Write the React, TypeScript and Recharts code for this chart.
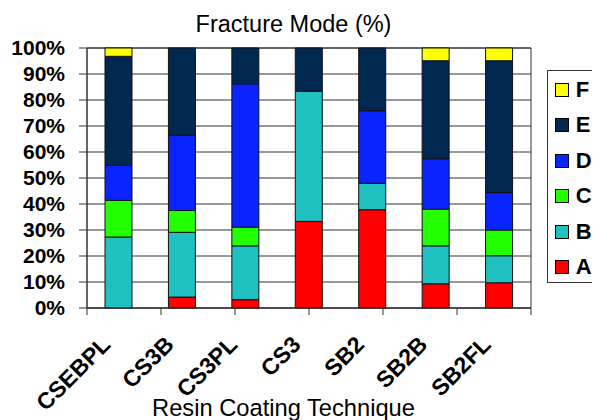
import React from 'react';
import { BarChart, Bar, XAxis, YAxis, CartesianGrid, ReferenceArea } from 'recharts';

const categories = ['CSEBPL', 'CS3B', 'CS3PL', 'CS3', 'SB2', 'SB2B', 'SB2FL'];
const modeA = [0, 4.2, 3.2, 33.3, 37.8, 9.3, 9.7];
const modeB = [27.3, 24.9, 20.7, 50.1, 10.2, 14.6, 10.4];
const modeC = [14.1, 8.4, 7.2, 0, 0, 14.1, 9.9];
const modeD = [13.5, 29.0, 55.1, 0, 27.9, 19.4, 14.4];
const modeE = [41.9, 33.5, 13.8, 16.6, 24.1, 37.7, 50.7];
const modeF = [3.2, 0, 0, 0, 0, 4.9, 4.9];
const yTicks = [0, 10, 20, 30, 40, 50, 60, 70, 80, 90, 100];
const boundaryTicks = [0, 1, 2, 3, 4, 5, 6, 7];

const seriesKeys = ['A', 'B', 'C', 'D', 'E', 'F'];
const seriesColors = ['#FF0000', '#20C0C0', '#22FF00', '#0A24FF', '#002850', '#FFFF00'];
const seriesValues = [modeA, modeB, modeC, modeD, modeE, modeF];

const data = categories.map((name, i) => {
  const row: Record<string, number | string> = { name };
  seriesKeys.forEach((k, j) => {
    row[k] = seriesValues[j][i];
  });
  return row;
});

const FONT = '"Liberation Sans", Arial, sans-serif';

const CatTick = (props: any) => {
  const { x, y, payload } = props;
  return (
    <g transform={`translate(${x - 7}, ${y + 37})`}>
      <text
        x={0}
        y={0}
        transform="rotate(-45)"
        textAnchor="end"
        fontFamily={FONT}
        fontWeight="bold"
        fontSize={23}
        fill="#000"
      >
        {payload.value}
      </text>
    </g>
  );
};

const EmptyTick = () => <g />;

const LegendBox = () => (
  <div
    style={{
      position: 'absolute',
      left: 538.7,
      top: 62,
      width: 64,
      height: 213,
      borderTop: '1px solid #333',
      borderLeft: '1px solid #333',
      borderBottom: '1px solid #333',
      background: '#fff',
      boxSizing: 'border-box',
      paddingTop: 1,
      overflow: 'visible',
      fontFamily: FONT,
    }}
  >
    {seriesKeys
      .map((k, j) => ({ k, c: seriesColors[j] }))
      .reverse()
      .map(({ k, c }) => (
        <div key={k} style={{ height: 35.5, display: 'flex', alignItems: 'center' }}>
          <div
            style={{
              width: 14,
              height: 14,
              background: c,
              border: '1px solid #000',
              boxSizing: 'border-box',
              marginLeft: 7.5,
              marginRight: 6.5,
              flex: 'none',
            }}
          />
          <span style={{ fontWeight: 'bold', fontSize: 22, color: '#000', lineHeight: '22px' }}>{k}</span>
        </div>
      ))}
  </div>
);

export default function App() {
  return (
    <div style={{ position: 'relative', width: 600, height: 420, fontFamily: FONT }}>
      <BarChart
        width={600}
        height={420}
        data={data}
        margin={{ top: 40, right: 77, bottom: 118, left: 0 }}
        barSize={27}
      >
        <CartesianGrid xAxisId="cat" vertical={false} stroke="#333" strokeOpacity={1} />
        <XAxis
          xAxisId="bounds"
          type="number"
          domain={[0, 7]}
          ticks={boundaryTicks}
          interval={0}
          height={1}
          tick={<EmptyTick />}
          tickLine={{ stroke: '#333' }}
          tickSize={7}
          stroke="#333"
          allowDataOverflow
        />
        <XAxis
          xAxisId="cat"
          dataKey="name"
          height={1}
          axisLine={false}
          tickLine={false}
          tickSize={0}
          tickMargin={0}
          interval={0}
          tick={<CatTick />}
        />
        <YAxis
          width={79}
          domain={[0, 100]}
          ticks={yTicks}
          tickFormatter={(v: number) => `${v}%`}
          tickSize={8}
          tickMargin={14}
          stroke="#333"
          interval={0}
          tick={{ fontFamily: FONT, fontWeight: 'bold', fontSize: 21, fill: '#000' }}
        />
        <ReferenceArea xAxisId="cat" y1={0} y2={100} fill="none" stroke="#333" strokeWidth={1} ifOverflow="visible" />
        {seriesKeys.map((k, j) => (
          <Bar
            key={k}
            xAxisId="cat"
            dataKey={k}
            stackId="s"
            fill={seriesColors[j]}
            stroke="#111"
            strokeWidth={1}
            isAnimationActive={false}
          />
        ))}
      </BarChart>
      <LegendBox />
      <div
        style={{
          position: 'absolute',
          left: 285.5,
          top: 4.5,
          transform: 'translateX(-50%)',
          whiteSpace: 'nowrap',
          fontSize: 23.5,
          lineHeight: '23.5px',
          color: '#000',
        }}
      >
        Fracture Mode (%)
      </div>
      <div
        style={{
          position: 'absolute',
          left: 275.5,
          top: 389,
          transform: 'translateX(-50%)',
          whiteSpace: 'nowrap',
          fontSize: 23.7,
          lineHeight: '23.7px',
          color: '#000',
        }}
      >
        Resin Coating Technique
      </div>
    </div>
  );
}
